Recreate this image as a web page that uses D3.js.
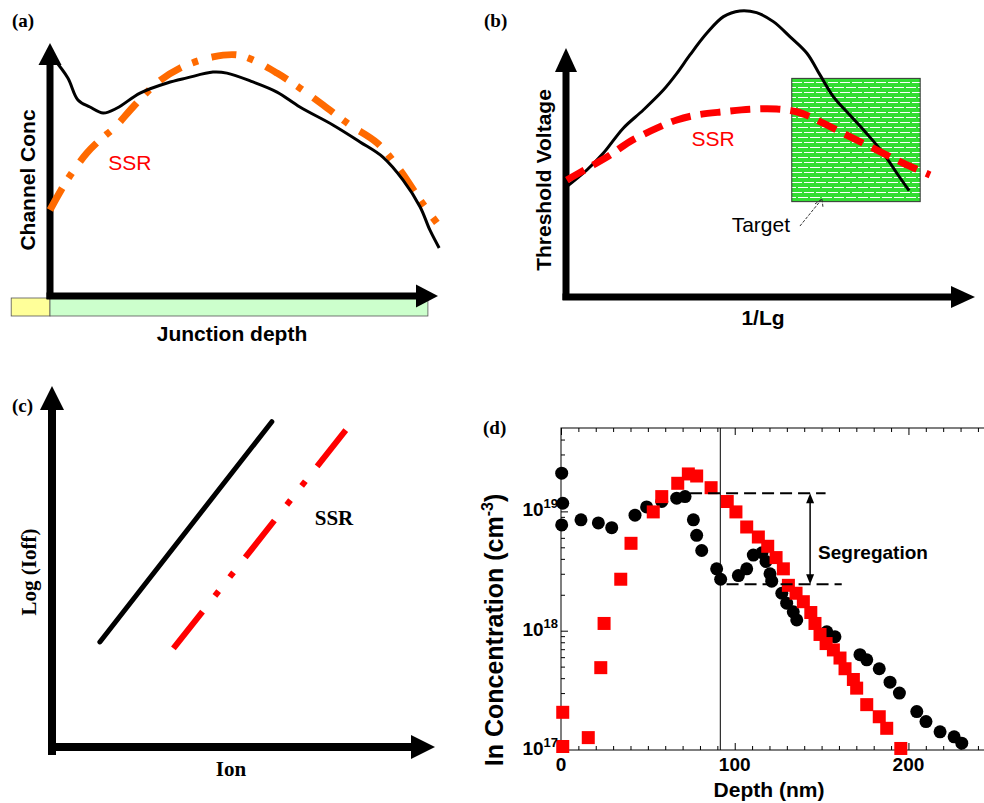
<!DOCTYPE html>
<meta charset="utf-8">
<html>
<head><title>SSR figure</title></head>
<style>
body { margin: 0; background: #fff; }
svg text { font-family: "Liberation Sans", Arial, Helvetica, sans-serif; }
svg text.serif { font-family: "Liberation Serif", "Times New Roman", serif; font-weight: bold; }
</style>
<body>
<svg id="fig" width="984" height="803"></svg>
<script src="https://d3js.org/d3.v7.min.js"></script>
<script>

// ---------- data ----------
// (a) channel concentration vs junction depth, arbitrary units 0-100
var aConvX = [0.8, 4.6, 7.2, 10.3, 13.7, 17.3, 23.2, 30.2, 35.3, 42.0, 45.6, 52.3, 58.5, 64.4, 72.9, 79.9, 85.8, 91.0, 95.4, 97.9, 100.3];
var aConvY = [94.1, 86.2, 77.5, 74.7, 72.3, 74.3, 80.2, 84.2, 86.2, 88.5, 88.1, 84.6, 80.6, 74.7, 67.6, 60.9, 54.9, 45.8, 35.2, 26.1, 19.0];
var aSsrX = [0, 4.4, 9.5, 12.9, 16.8, 21.4, 27.6, 33.5, 42.0, 48.2, 52.3, 58.5, 64.4, 70.4, 77.3, 84.3, 90.2, 95.4, 99.7];
var aSsrY = [34, 45.8, 56.5, 61.7, 66.8, 74.7, 84.2, 90.1, 94.5, 95.3, 93.3, 88.1, 82.2, 75.5, 67.6, 60.5, 49.8, 37.9, 28.9];
var aRegionStart = [-10, 0];
var aRegionEnd = [0, 97.4];
var aRegionColor = ["#ffff99", "#ccffcc"];

// (b) threshold voltage vs 1/Lg
var bConvX = [0.2, 5.1, 9.1, 14.0, 18.9, 23.8, 27.1, 30.3, 34.4, 38.5, 42.5, 46.6, 50.7, 54.8, 58.9, 62.1, 65.4, 69.4, 73.5, 77.6, 80.9, 83.9];
var bConvY = [44.3, 51.0, 57.7, 67.8, 75.1, 83.1, 89.8, 97.2, 105.9, 112.6, 114.9, 114.2, 110.6, 104.5, 97.9, 89.2, 80.4, 73.1, 65.7, 57.7, 49.7, 42.7];
var bSsrX = [0.2, 5.9, 10.8, 15.6, 22.2, 27.1, 32.0, 38.5, 45.0, 51.5, 56.4, 59.7, 62.9, 67.8, 72.7, 77.6, 82.5, 89.0];
var bSsrY = [47.0, 52.3, 57.0, 62.4, 67.8, 71.1, 73.1, 74.4, 75.4, 75.5, 74.4, 72.4, 69.8, 65.7, 61.7, 57.7, 53.7, 49.0];
var bTargetX = [55.2, 86.6];
var bTargetY = [38.3, 87.8];

// (c) log(Ioff) vs Ion
var cConvX = [12.5, 57.4];
var cConvY = [29.1, 90.1];
var cSsrX = [31.7, 76.7];
var cSsrY = [27.3, 87.8];

// (d) In concentration profile (nm, cm-3)
var dBlackDepth = [0.4, 1.0, 0.4, 11.5, 21.5, 29.2, 42.6, 49.3, 58.0, 66.6, 71.4, 76.2, 78.1, 81.0, 89.6, 91.9, 102.1, 106.9, 110.7, 115.7, 118.0, 120.3, 121.3, 127.1, 129.9, 133.7, 135.7, 153.0, 157.7, 172.1, 176.0, 183.2, 189.4, 194.8, 204.8, 210.1, 218.2, 226.3, 230.7];
var dBlackConc = [2.09e19, 1.17e19, 7.7e18, 8.5e18, 8.0e18, 7.3e18, 9.3e18, 1.09e19, 1.21e19, 1.29e19, 1.33e19, 8.5e18, 6.3e18, 4.7e18, 3.3e18, 2.7e18, 2.9e18, 3.3e18, 4.3e18, 4.5e18, 3.8e18, 3.0e18, 2.6e18, 2.06e18, 1.70e18, 1.44e18, 1.23e18, 9.8e17, 8.9e17, 6.3e17, 5.7e17, 4.8e17, 3.7e17, 3.0e17, 2.1e17, 1.73e17, 1.42e17, 1.29e17, 1.14e17];
var dRedDepth = [1.0, 1.0, 15.7, 22.9, 24.8, 34.4, 40.3, 53.1, 58.0, 67.2, 73.3, 78.1, 86.4, 95.7, 100.7, 106.9, 113.6, 119.0, 123.8, 128.0, 130.9, 135.3, 139.5, 143.8, 146.2, 149.1, 152.6, 156.8, 160.6, 163.5, 168.3, 170.2, 176.0, 183.2, 187.5, 195.6];
var dRedConc = [1.07e17, 2.07e17, 1.27e17, 4.9e17, 1.15e18, 2.7e18, 5.4e18, 9.9e18, 1.33e19, 1.72e19, 2.06e19, 1.98e19, 1.58e19, 1.21e19, 9.9e18, 7.4e18, 6.1e18, 5.1e18, 4.1e18, 3.3e18, 2.4e18, 2.06e18, 1.75e18, 1.42e18, 1.15e18, 9.3e17, 7.8e17, 6.9e17, 5.9e17, 4.8e17, 3.9e17, 3.3e17, 2.4e17, 1.9e17, 1.52e17, 1.03e17];
var dInterface = 91.7;
var segHigh = 1.42e19, segHighFrom = 74.3, segHighTo = 152.3;
var segLow = 2.45e18, segLowFrom = 95.3, segLowTo = 161.6;
var segArrowAt = 143.4;
var dXMajor = [0, 100, 200];
var dYMajor = [17, 18, 19];

var svg = d3.select("#fig");

// defs: brick pattern for the target box
var defs = svg.append("defs");
var pat = defs.append("pattern").attr("id", "brick")
  .attr("patternUnits", "userSpaceOnUse").attr("width", 12).attr("height", 10);
pat.append("rect").attr("width", 12).attr("height", 10).attr("fill", "#33dd33");
pat.append("path").attr("d", "M0,2.5H10M0,7.5H4M6,7.5H12")
  .attr("stroke", "#fff").attr("stroke-width", 1.2);

// thick axes with triangle heads, as in the sketches
function arrowAxes(g, x, y, w, head, hw, below) {
  var x0 = x(0), y0 = y(0), x1 = x(100), y1 = y(100);
  g.append("line").attr("x1", x0).attr("x2", x0)
    .attr("y1", y0 + below).attr("y2", y1 + head - 1)
    .attr("stroke", "#000").attr("stroke-width", w);
  g.append("line").attr("x1", x0 - w / 2).attr("x2", x1 - head + 1)
    .attr("y1", y0).attr("y2", y0)
    .attr("stroke", "#000").attr("stroke-width", w);
  g.append("path").attr("d", "M" + (x0 - hw) + "," + (y1 + head) + "L" + (x0 + hw) + "," + (y1 + head) + "L" + x0 + "," + y1 + "Z");
  g.append("path").attr("d", "M" + (x1 - head) + "," + (y0 - hw) + "L" + (x1 - head) + "," + (y0 + hw) + "L" + x1 + "," + y0 + "Z");
}

function vText(g, x, y, str, size, cls) {
  return g.append("text")
    .attr("class", cls || null)
    .attr("transform", "translate(" + x + "," + y + ") rotate(-90)")
    .attr("text-anchor", "middle")
    .style("font-size", size + "px")
    .style("font-weight", "bold")
    .text(str);
}

function panelLabel(x, y, s) {
  svg.append("text").attr("class", "serif").attr("x", x).attr("y", y)
    .style("font-size", "19px").text(s);
}

// ================= (a) =================
var ga = svg.append("g");
var ax = d3.scaleLinear().domain([0, 100]).range([50, 438]);
var ay = d3.scaleLinear().domain([0, 100]).range([296, 43]);

ga.selectAll("rect.region")
  .data(aRegionStart)
  .enter().append("rect")
  .attr("x", function(d) { return ax(d); })
  .attr("y", ay(0) + 2)
  .attr("width", function(d, i) { return ax(aRegionEnd[i]) - ax(d); })
  .attr("height", 18)
  .attr("fill", function(d, i) { return aRegionColor[i]; })
  .attr("stroke", "#555").attr("stroke-width", 0.8);

arrowAxes(ga, ax, ay, 7, 22, 11.5, 3);

var lineA = d3.line().x(function(d) { return ax(d[0]); }).y(function(d) { return ay(d[1]); })
  .curve(d3.curveCatmullRom.alpha(0.5));

ga.append("path").datum(d3.zip(aSsrX, aSsrY)).attr("d", lineA)
  .attr("fill", "none").attr("stroke", "#ff6a00").attr("stroke-width", 7)
  .attr("stroke-dasharray", "25,12,6,14");
ga.append("path").datum(d3.zip(aConvX, aConvY)).attr("d", lineA)
  .attr("fill", "none").attr("stroke", "#000").attr("stroke-width", 3);

ga.append("text").attr("x", ax(15)).attr("y", ay(50)).attr("fill", "#ff0000")
  .style("font-size", "21px").text("SSR");
vText(ga, 35, 180, "Channel Conc", 21);
ga.append("text").attr("x", 232).attr("y", 341).attr("text-anchor", "middle")
  .style("font-size", "21px").style("font-weight", "bold").text("Junction depth");
panelLabel(12, 27, "(a)");

// ================= (b) =================
var gb = svg.append("g");
var bx = d3.scaleLinear().domain([0, 100]).range([566, 975]);
var by = d3.scaleLinear().domain([0, 100]).range([297, 48]);

arrowAxes(gb, bx, by, 7, 24, 11, 3);

gb.append("rect")
  .attr("x", bx(bTargetX[0])).attr("y", by(bTargetY[1]))
  .attr("width", bx(bTargetX[1]) - bx(bTargetX[0]))
  .attr("height", by(bTargetY[0]) - by(bTargetY[1]))
  .attr("fill", "url(#brick)").attr("stroke", "#333").attr("stroke-width", 1);

var lineB = d3.line().x(function(d) { return bx(d[0]); }).y(function(d) { return by(d[1]); })
  .curve(d3.curveCatmullRom.alpha(0.5));

gb.append("path").datum(d3.zip(bConvX, bConvY)).attr("d", lineB)
  .attr("fill", "none").attr("stroke", "#000").attr("stroke-width", 3);
gb.append("path").datum(d3.zip(bSsrX, bSsrY)).attr("d", lineB)
  .attr("fill", "none").attr("stroke", "#ff0000").attr("stroke-width", 7)
  .attr("stroke-dasharray", "20,10");

gb.append("text").attr("x", bx(30.7)).attr("y", by(60.6)).attr("fill", "#ff0000")
  .style("font-size", "21px").text("SSR");
gb.append("text").attr("x", bx(40.5)).attr("y", by(26.1))
  .style("font-size", "21px").text("Target");
// hand drawn pointer to the target box
gb.append("line").attr("x1", bx(57.2)).attr("y1", by(28.5)).attr("x2", bx(62.6)).attr("y2", by(39.4))
  .attr("stroke", "#333").attr("stroke-width", 1).attr("stroke-dasharray", "3,1.5");
gb.append("path")
  .attr("d", "M" + (bx(62.6) - 7) + "," + (by(39.4) + 5) + "L" + bx(62.6) + "," + by(39.4) + "L" + (bx(62.6) + 1) + "," + (by(39.4) + 9))
  .attr("fill", "none").attr("stroke", "#333").attr("stroke-width", 1).attr("stroke-dasharray", "3,1.5");
vText(gb, 551, 180, "Threshold Voltage", 21);
gb.append("text").attr("x", 763).attr("y", 325).attr("text-anchor", "middle")
  .style("font-size", "21px").style("font-weight", "bold").text("1/Lg");
panelLabel(484, 27, "(b)");

// ================= (c) =================
var gc = svg.append("g");
var cx = d3.scaleLinear().domain([0, 100]).range([52, 435]);
var cy = d3.scaleLinear().domain([0, 100]).range([747, 386]);

arrowAxes(gc, cx, cy, 8, 24, 12, 8);

var lineC = d3.line().x(function(d) { return cx(d[0]); }).y(function(d) { return cy(d[1]); });
gc.append("path").datum(d3.zip(cConvX, cConvY)).attr("d", lineC)
  .attr("fill", "none").attr("stroke", "#000").attr("stroke-width", 5).attr("stroke-linecap", "round");
gc.append("path").datum(d3.zip(cSsrX, cSsrY)).attr("d", lineC)
  .attr("fill", "none").attr("stroke", "#ff0000").attr("stroke-width", 6)
  .attr("stroke-dasharray", "47,20,6,18,6,19");

gc.append("text").attr("class", "serif").attr("x", cx(68.6)).attr("y", cy(61.6))
  .style("font-size", "21px").text("SSR");
vText(gc, 36, 572, "Log (Ioff)", 21, "serif");
gc.append("text").attr("class", "serif").attr("x", 231).attr("y", 776).attr("text-anchor", "middle")
  .style("font-size", "21px").text("Ion");
panelLabel(12, 412, "(c)");

// ================= (d) =================
var gd = svg.append("g");
var dx = d3.scaleLinear().domain([0, 250]).range([561, 995.3]);
var dy = d3.scaleLog().domain([1e17, 5e19]).range([750, 428]);

gd.append("rect").attr("x", dx(0)).attr("y", dy(5e19))
  .attr("width", dx(250) - dx(0)).attr("height", dy(1e17) - dy(5e19))
  .attr("fill", "none").attr("stroke", "#000").attr("stroke-width", 1);

var xMinor = d3.range(0, 251, 10).filter(function(v) { return dXMajor.indexOf(v) < 0; });
var yMinor = [];
dYMajor.forEach(function(e) {
  d3.range(2, 10).forEach(function(m) {
    var v = m * Math.pow(10, e);
    if (v < 5e19) yMinor.push(v);
  });
});
var yMajorVals = dYMajor.map(function(e) { return Math.pow(10, e); });

function tickAxis(axis, vals, size, transform) {
  var g = gd.append("g").attr("transform", transform)
    .call(axis.tickValues(vals).tickSize(size).tickFormat(""));
  g.select(".domain").remove();
  g.selectAll("line").attr("stroke", "#000");
}
tickAxis(d3.axisBottom(dx), xMinor, -4, "translate(0," + dy(1e17) + ")");
tickAxis(d3.axisBottom(dx), dXMajor, -7, "translate(0," + dy(1e17) + ")");
tickAxis(d3.axisTop(dx), xMinor, -4, "translate(0," + dy(5e19) + ")");
tickAxis(d3.axisTop(dx), dXMajor, -7, "translate(0," + dy(5e19) + ")");
tickAxis(d3.axisLeft(dy), yMinor, -4, "translate(" + dx(0) + ",0)");
tickAxis(d3.axisLeft(dy), yMajorVals, -7, "translate(" + dx(0) + ",0)");

// interface line
gd.append("line").attr("x1", dx(dInterface)).attr("x2", dx(dInterface))
  .attr("y1", dy(5e19)).attr("y2", dy(1e17)).attr("stroke", "#000").attr("stroke-width", 1);

// data
gd.selectAll("circle.sims")
  .data(d3.zip(dBlackDepth, dBlackConc))
  .enter().append("circle")
  .attr("cx", function(d) { return dx(d[0]); })
  .attr("cy", function(d) { return dy(d[1]); })
  .attr("r", 6.5).attr("fill", "#000");
gd.selectAll("rect.sim")
  .data(d3.zip(dRedDepth, dRedConc))
  .enter().append("rect")
  .attr("x", function(d) { return dx(d[0]) - 6.5; })
  .attr("y", function(d) { return dy(d[1]) - 6.5; })
  .attr("width", 13).attr("height", 13).attr("fill", "#ff0000");

// segregation markers
gd.append("line").attr("x1", dx(segHighFrom)).attr("x2", dx(segHighTo))
  .attr("y1", dy(segHigh)).attr("y2", dy(segHigh))
  .attr("stroke", "#000").attr("stroke-width", 2).attr("stroke-dasharray", "12,6");
gd.append("line").attr("x1", dx(segLowFrom)).attr("x2", dx(segLowTo))
  .attr("y1", dy(segLow)).attr("y2", dy(segLow))
  .attr("stroke", "#000").attr("stroke-width", 2).attr("stroke-dasharray", "12,6");
var sx = dx(segArrowAt), sy1 = dy(segHigh), sy2 = dy(segLow);
gd.append("line").attr("x1", sx).attr("x2", sx).attr("y1", sy1 + 8).attr("y2", sy2 - 8)
  .attr("stroke", "#000").attr("stroke-width", 1.5);
gd.append("path").attr("d", "M" + (sx - 4) + "," + (sy1 + 10) + "L" + sx + "," + sy1 + "L" + (sx + 4) + "," + (sy1 + 10) + "Z");
gd.append("path").attr("d", "M" + (sx - 4) + "," + (sy2 - 10) + "L" + sx + "," + sy2 + "L" + (sx + 4) + "," + (sy2 - 10) + "Z");
gd.append("text").attr("x", sx + 8).attr("y", dy(4.6e18) + 7)
  .style("font-size", "19px").style("font-weight", "bold").text("Segregation");

// tick labels
gd.selectAll("text.xt").data(dXMajor).enter().append("text")
  .attr("x", function(d) { return dx(d); }).attr("y", 771)
  .attr("text-anchor", "middle").style("font-size", "19px").style("font-weight", "bold")
  .text(function(d) { return d; });
var yt = gd.selectAll("text.yt").data(dYMajor).enter().append("text")
  .attr("x", dx(0) - 3).attr("y", function(d) { return dy(Math.pow(10, d)) + 5; })
  .attr("text-anchor", "end").style("font-weight", "bold");
yt.append("tspan").style("font-size", "19px").text("10");
yt.append("tspan").attr("dy", -8).style("font-size", "13px").text(function(d) { return d; });

gd.append("text").attr("x", 769).attr("y", 797).attr("text-anchor", "middle")
  .style("font-size", "21px").style("font-weight", "bold").text("Depth (nm)");
var yl = gd.append("text").attr("transform", "translate(503,630) rotate(-90)")
  .attr("text-anchor", "middle").style("font-size", "25px").style("font-weight", "bold");
yl.append("tspan").text("In Concentration (cm");
yl.append("tspan").attr("dy", -10).style("font-size", "16px").text("-3");
yl.append("tspan").attr("dy", 10).text(")");
panelLabel(483, 434, "(d)");

</script>
</body>
</html>
